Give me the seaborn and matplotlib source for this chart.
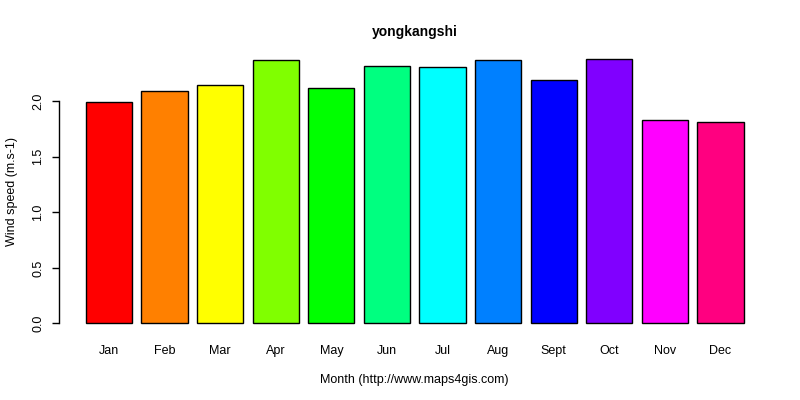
import pandas as pd
import seaborn as sns
import matplotlib.pyplot as plt

# Monthly mean wind speed
months = ['Jan', 'Feb', 'Mar', 'Apr', 'May', 'Jun',
          'Jul', 'Aug', 'Sept', 'Oct', 'Nov', 'Dec']
wind = [1.99, 2.09, 2.15, 2.37, 2.12, 2.32, 2.31, 2.37, 2.19, 2.38, 1.83, 1.81]
colors = ['#FF0000', '#FF8000', '#FFFF00', '#80FF00', '#00FF00', '#00FF80',
          '#00FFFF', '#0080FF', '#0000FF', '#8000FF', '#FF00FF', '#FF0080']
yticks = [0.0, 0.5, 1.0, 1.5, 2.0]

df = pd.DataFrame({'month': months, 'wind': wind})

sns.set_style('white')
plt.rcParams['font.family'] = ['Liberation Sans', 'DejaVu Sans']
plt.rcParams['text.color'] = 'black'
plt.rcParams['axes.labelcolor'] = 'black'
plt.rcParams['xtick.color'] = 'black'
plt.rcParams['ytick.color'] = 'black'

fig = plt.figure(figsize=(8, 4), dpi=100)
ax = fig.add_axes([0.0743, 0.165, 0.8882, 0.7135])

sns.barplot(data=df, x='month', y='wind', hue='month', palette=colors,
            legend=False, width=1 / 1.2, edgecolor='black', linewidth=1,
            saturation=1, ax=ax)

ax.set_xlim(-0.89, 11.89)
ax.set_ylim(-0.095, 2.475)

for s in ['top', 'right', 'bottom']:
    ax.spines[s].set_visible(False)
ax.spines['left'].set_bounds(0, 2.0)
ax.spines['left'].set_color('black')
ax.spines['left'].set_linewidth(1)

ax.set_yticks(yticks)
ax.set_yticklabels([f'{v:.1f}' for v in yticks], rotation=90, va='center', fontsize=9)
ax.tick_params(axis='y', length=5, width=1, color='black', pad=6, left=True)
ax.tick_params(axis='x', length=0, pad=8, labelsize=9)

ax.set_xlabel('Month (http://www.maps4gis.com)', fontsize=9, labelpad=12)
ax.set_ylabel('Wind speed (m.s-1)', fontsize=9, labelpad=10)
ax.set_title('yongkangshi', fontsize=10, fontweight='bold', pad=9)

plt.savefig('out.png', dpi=100)
